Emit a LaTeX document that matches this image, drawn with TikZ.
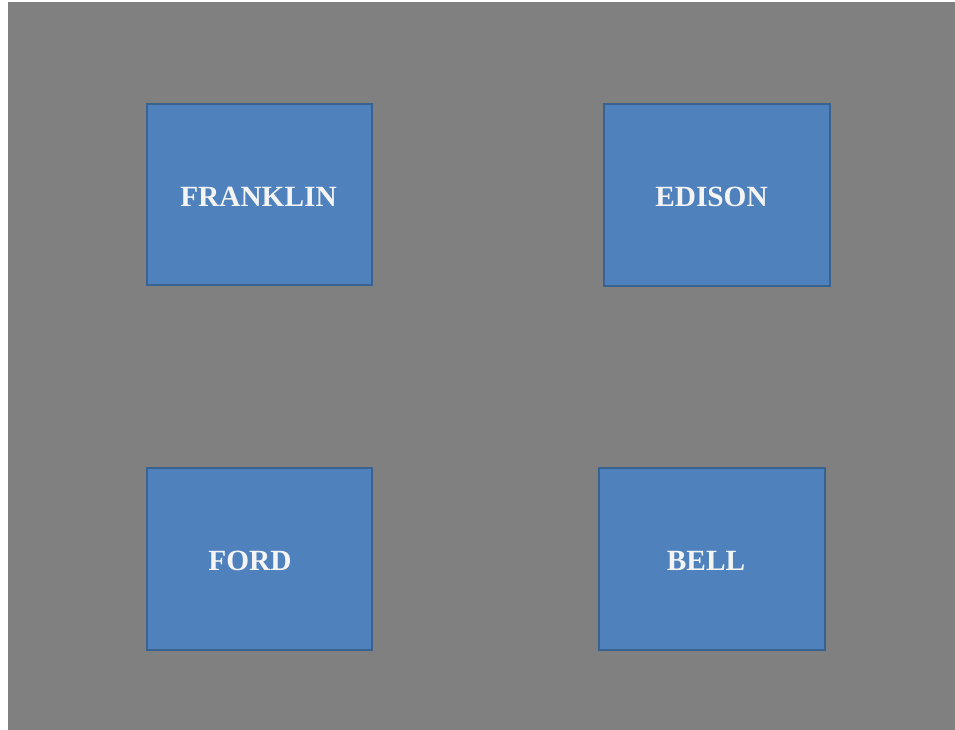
\documentclass[tikz,border=0pt]{standalone}
\usepackage{fontspec}
\setmainfont{Liberation Serif}
\definecolor{bg}{HTML}{808080}
\definecolor{boxfill}{HTML}{4F81BD}
\definecolor{boxline}{HTML}{3A6290}
\definecolor{txt}{HTML}{F4F4F4}
\tikzset{
  card/.style={draw=boxline, line width=1.5pt, fill=boxfill},
  lbl/.style={text=txt, font=\bfseries\fontsize{22}{26}\selectfont, inner sep=0pt}
}
\begin{document}
\begin{tikzpicture}[x=0.75pt,y=-0.75pt]
\useasboundingbox (0,0) rectangle (955,730);
\fill[white] (0,0) rectangle (955,730);
\fill[bg] (8,2) rectangle (955,730);
\draw[card] (147,104) rectangle (372,285) node[pos=0.5] (franklinbox) {};
\draw[card] (604,104) rectangle (830,286) node[pos=0.5] (edisonbox) {};
\draw[card] (147,468) rectangle (372,650) node[pos=0.5] (fordbox) {};
\draw[card] (599,468) rectangle (825,650) node[pos=0.5] (bellbox) {};
\node[lbl] (franklin) at (258.5,197) {FRANKLIN};
\node[lbl] (edison) at (711.5,197) {EDISON};
\node[lbl] (ford) at (250,561) {FORD};
\node[lbl] (bell) at (706,561) {BELL};
\end{tikzpicture}
\end{document}
